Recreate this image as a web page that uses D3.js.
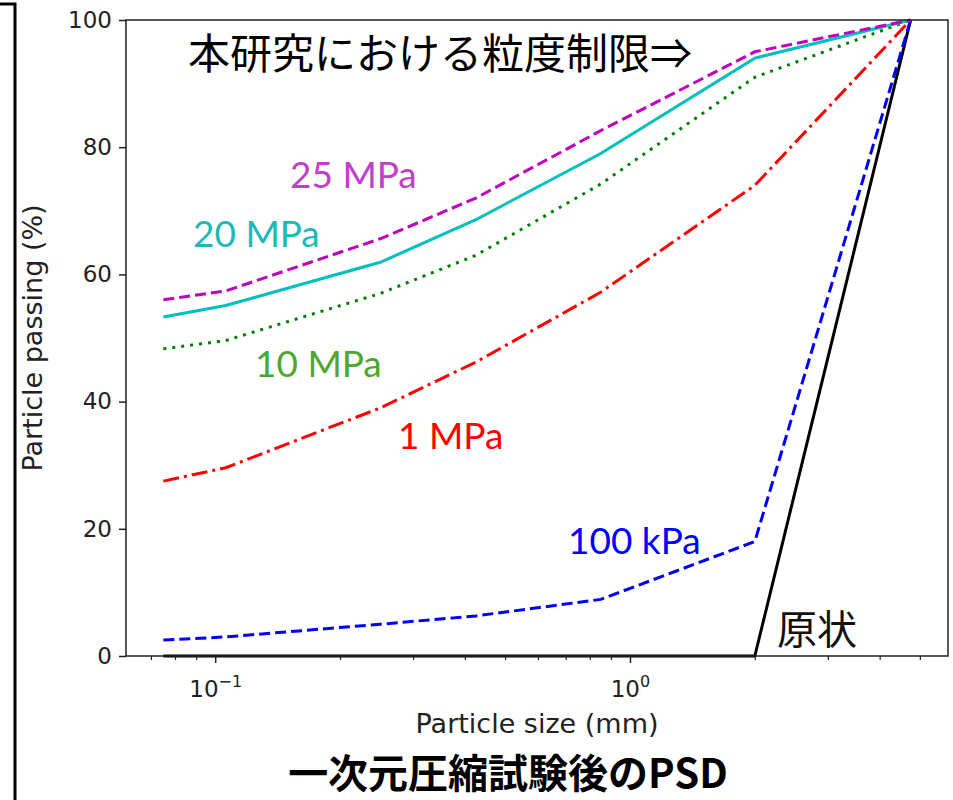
<!DOCTYPE html>
<html><head><meta charset="utf-8">
<script src="https://cdn.jsdelivr.net/npm/d3@7"></script>
<style>body{margin:0;background:#fff}svg{display:block}</style>
</head><body>
<svg id="c" width="953" height="800"></svg>
<script>
// ---- data ----
const sizes = [0.075, 0.106, 0.25, 0.425, 0.85, 2.0, 4.75];
const original = [0, 0, 0, 0, 0, 0, 100];
const kPa100 = [2.5, 3.0, 5.0, 6.3, 8.9, 18, 100];
const MPa1 = [27.5, 29.6, 39.0, 46.2, 57.2, 74.0, 100];
const MPa10 = [48.3, 49.6, 57.0, 63.0, 74.2, 91.0, 100];
const MPa20 = [53.3, 55.1, 61.9, 68.6, 79.0, 94.0, 100];
const MPa25 = [56.0, 57.4, 65.6, 72.0, 82.6, 95.0, 100];
const yTicks = [0, 20, 40, 60, 80, 100];
const xMajor = [0.1, 1];
const seriesNames = ["原状", "100 kPa", "1 MPa", "10 MPa", "20 MPa", "25 MPa"];

const svg = d3.select("#c");
const L = 126, R = 948, T = 20, B = 656;

// log domain with 5% margins (in log space) around data
const lmin = Math.log10(d3.min(sizes)), lmax = Math.log10(d3.max(sizes));
const pad = 0.05 * (lmax - lmin);
const x = d3.scaleLog().domain([Math.pow(10, lmin - pad), Math.pow(10, lmax + pad)]).range([L, R]);
const y = d3.scaleLinear().domain([0, 100]).range([B, T]);

// left bracket decoration
svg.append("path").attr("d", "M0,4 H15 V800").attr("fill", "none").attr("stroke", "#000").attr("stroke-width", 3);

const gPlot = svg.append("g");
gPlot.append("clipPath").attr("id", "clip").append("rect").attr("x", L).attr("y", T - 2).attr("width", R - L).attr("height", B - T + 4);

const series = [
  {vals: original, color: "#000000", dash: null},
  {vals: kPa100, color: "#0000ff", dash: "11,5"},
  {vals: MPa1, color: "#ff0000", dash: "16,5,3,5"},
  {vals: MPa10, color: "#008000", dash: "3,6"},
  {vals: MPa20, color: "#00bfbf", dash: null},
  {vals: MPa25, color: "#bf00bf", dash: "11,5"}
];
const line = d3.line().x(d => x(d[0])).y(d => y(d[1]));
series.forEach(s => {
  gPlot.append("path")
    .datum(sizes.map((v, i) => [v, s.vals[i]]))
    .attr("d", line)
    .attr("fill", "none")
    .attr("stroke", s.color)
    .attr("stroke-width", 3)
    .attr("stroke-dasharray", s.dash)
    .attr("clip-path", "url(#clip)");
});

// frame
svg.append("rect").attr("x", L).attr("y", T).attr("width", R - L).attr("height", B - T)
  .attr("fill", "none").attr("stroke", "#222").attr("stroke-width", 1.5);

// y axis
const yAxis = d3.axisLeft(y).tickValues(yTicks).tickSize(7).tickPadding(7);
const gy = svg.append("g").attr("transform", `translate(${L},0)`).call(yAxis);
gy.select(".domain").remove();
gy.selectAll("line").attr("stroke", "#222").attr("stroke-width", 1.5);
gy.selectAll("text").attr("font-family", "DejaVu Sans").attr("font-size", 23).attr("fill", "#222");

// x axis minor ticks
const minor = [];
for (let e = -2; e <= 1; e++) for (let k = 2; k <= 9; k++) {
  const v = k * Math.pow(10, e);
  const [d0, d1] = x.domain();
  if (v >= d0 && v <= d1) minor.push(v);
}
const gxm = svg.append("g").attr("transform", `translate(0,${B})`)
  .call(d3.axisBottom(x).tickValues(minor).tickSize(4).tickFormat(""));
gxm.select(".domain").remove();
gxm.selectAll("line").attr("stroke", "#222").attr("stroke-width", 1.2);

const gx = svg.append("g").attr("transform", `translate(0,${B})`)
  .call(d3.axisBottom(x).tickValues(xMajor).tickSize(7).tickFormat(""));
gx.select(".domain").remove();
gx.selectAll("line").attr("stroke", "#222").attr("stroke-width", 1.5);
gx.selectAll(".tick").each(function(d) {
  const t = d3.select(this).append("text").attr("y", 41).attr("text-anchor", "middle")
    .attr("font-family", "DejaVu Sans").attr("font-size", 23).attr("fill", "#222");
  const exp = Math.round(Math.log10(d));
  t.append("tspan").text("10");
  t.append("tspan").attr("dy", -10).attr("font-size", 16).text(exp < 0 ? "\u2212" + (-exp) : String(exp));
});

// axis titles
svg.append("text").attr("x", (L + R) / 2).attr("y", 733).attr("text-anchor", "middle")
  .attr("font-family", "DejaVu Sans").attr("font-size", 27).attr("fill", "#222").text("Particle size (mm)");
svg.append("text").attr("transform", `translate(42,${(T + B) / 2}) rotate(-90)`).attr("text-anchor", "middle")
  .attr("font-family", "DejaVu Sans").attr("font-size", 27).attr("fill", "#222").text("Particle passing (%)");

// annotations
const ann = [
  {t: "本研究における粒度制限⇒", x: 188, y: 69, c: "#000", fs: 42, f: "Noto Sans CJK JP"},
  {t: seriesNames[5], x: 290, y: 188, c: "#c040c8", fs: 37, f: "Lato"},
  {t: seriesNames[4], x: 193, y: 247, c: "#1fb8b8", fs: 37, f: "Lato"},
  {t: seriesNames[3], x: 255, y: 377, c: "#4ea72e", fs: 37, f: "Lato"},
  {t: seriesNames[2], x: 398, y: 449, c: "#ff0000", fs: 37, f: "Lato"},
  {t: seriesNames[1], x: 568, y: 554, c: "#0000ff", fs: 37, f: "Lato"},
  {t: seriesNames[0], x: 777, y: 644, c: "#111", fs: 40, f: "Noto Sans CJK JP"}
];
ann.forEach(a => svg.append("text").attr("x", a.x).attr("y", a.y).attr("fill", a.c)
  .attr("font-family", a.f).attr("font-size", a.fs).text(a.t));

// bottom title
svg.append("text").attr("x", 508).attr("y", 788).attr("text-anchor", "middle")
  .attr("font-family", "Noto Sans CJK JP").attr("font-weight", "bold").attr("font-size", 40).attr("fill", "#000")
  .text("一次元圧縮試験後のPSD");
</script>
</body></html>
